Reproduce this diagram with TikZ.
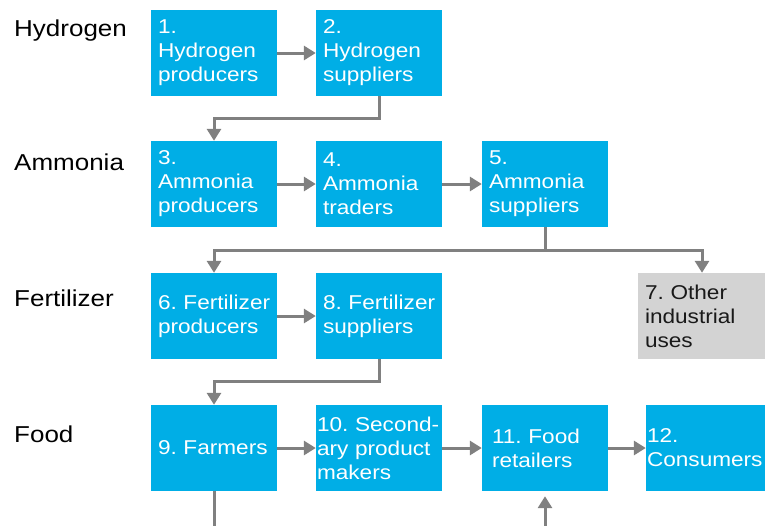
\documentclass[tikz,border=0pt]{standalone}
\usepackage{fontspec}
\setmainfont[FakeStretch=1.13]{Liberation Sans}
\usetikzlibrary{arrows.meta}
\definecolor{boxblue}{HTML}{00AEE6}
\definecolor{boxgray}{HTML}{D3D3D3}
\definecolor{arrgray}{HTML}{808080}
\hyphenpenalty=10000
\exhyphenpenalty=10000
\begin{document}
\begin{tikzpicture}[x=1pt,y=-1pt,
  stagebox/.style={fill=boxblue, text=white, minimum width=126pt, minimum height=86pt,
    inner xsep=7pt, inner ysep=0pt, text width=112pt, align=left,
    font=\fontsize{20}{24}\selectfont},
  graybox/.style={stagebox, fill=boxgray, text=black!90, minimum width=128pt, text width=114pt},
  rowlabel/.style={anchor=base west, inner sep=0pt, text=black, font=\fontsize{23}{27}\selectfont},
  conn/.style={draw=arrgray, line width=3pt},
  arr/.style={conn, -{Triangle[length=12pt,width=14pt]}}
]
\useasboundingbox (0,0) rectangle (765,525);

% row labels
\node[rowlabel] (lh) at (14,36) {Hydrogen};
\node[rowlabel] (la) at (14,170) {Ammonia};
\node[rowlabel] (lf) at (14,306) {Fertilizer};
\node[rowlabel] (lfo) at (14,442) {Food};

% row 1
\node[stagebox] (b1) at (214,53) {1.\\Hydrogen\\producers};
\node[stagebox] (b2) at (379,53) {2.\\Hydrogen\\suppliers};
% row 2
\node[stagebox] (b3) at (214,184) {3.\\Ammonia\\producers};
\node[stagebox] (b4) at (379,184) {4.\\Ammonia\\traders};
\node[stagebox] (b5) at (545,184) {5.\\Ammonia\\suppliers};
% row 3
\node[stagebox] (b6) at (214,316) {\mbox{6.~Fertilizer}\\producers};
\node[stagebox] (b8) at (379,316) {\mbox{8.~Fertilizer}\\suppliers};
\node[graybox] (b7) at (702,316) {7.~Other\\industrial\\uses};
% row 4
\node[stagebox] (b9) at (214,448) {9.~Farmers};
\node[stagebox, inner xsep=1pt, text width=124pt] (b10) at (379,448) {\mbox{10.~Second-}\\\mbox{ary~product}\\makers};
\node[stagebox, inner xsep=10pt, text width=106pt] (b11) at (545,448) {11.~Food\\retailers};
\node[stagebox, minimum width=120pt, inner xsep=1pt, text width=118pt] (b12) at (706,448) {12.\\Consumers};

% horizontal arrows
\draw[arr] (b1.east) -- (b2.west);
\draw[arr] (b3.east) -- (b4.west);
\draw[arr] (b4.east) -- (b5.west);
\draw[arr] (b6.east) -- (b8.west);
\draw[arr] (b9.east) -- (b10.west);
\draw[arr] (b10.east) -- (b11.west);
\draw[arr] (b11.east) -- (b12.west);

% elbow connectors
\draw[arr] (b2.south) -- ++(0,22) -| (b3.north);
\draw[conn] (b5.south) -- ++(0,23) coordinate (br);
\draw[arr] (br) -| (b6.north);
\draw[arr] (br) -| (b7.north);
\draw[arr] (b8.south) -- ++(0,22) -| (b9.north);

% bottom connectors leaving the frame
\coordinate (out9) at (214,530);
\coordinate (in11) at (545,530);
\draw[conn] (b9.south) -- (out9);
\draw[arr, shorten >=5pt] (in11) -- (b11.south);
\end{tikzpicture}
\end{document}
